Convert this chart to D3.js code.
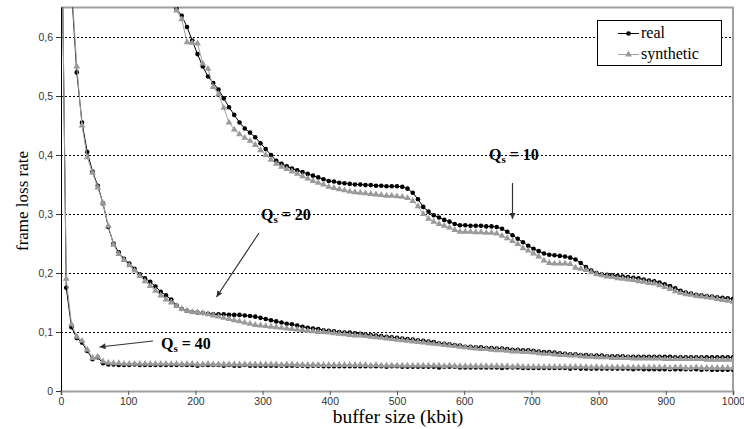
<!DOCTYPE html>
<html>
<head>
<meta charset="utf-8">
<script src="https://cdn.jsdelivr.net/npm/d3@7"></script>
<style>
  html, body { margin: 0; padding: 0; background: #fff; }
  svg { display: block; }
  .tick text { font-family: "Liberation Sans Narrow", "Arial Narrow", "Liberation Sans", Arial, sans-serif; font-size: 10.5px; fill: #333; }
  .serif { font-family: "Liberation Serif", "Times New Roman", "DejaVu Serif", serif; }
</style>
</head>
<body>
<svg id="chart" width="744" height="429"></svg>
<script>
// Buffer sizes (kbit) at which the frame loss rate was measured
const bufferSize = d3.range(129).map(i => i * 1000 / 128);

// Y tick values and X tick values
const yTicks = [0, 0.1, 0.2, 0.3, 0.4, 0.5, 0.6];
const xTicks = [0, 100, 200, 300, 400, 500, 600, 700, 800, 900, 1000];

// Qs = 40 (starting at buffer index 0)
const real40Start = 0;
const real40 = [
  0.9, 0.175, 0.108, 0.09, 0.082, 0.068, 0.054, 0.057, 0.047, 0.045,
  0.045, 0.044, 0.044, 0.044, 0.045, 0.044, 0.044, 0.044, 0.044, 0.044,
  0.044, 0.044, 0.044, 0.044, 0.044, 0.044, 0.043, 0.044, 0.044, 0.044,
  0.044, 0.043, 0.044, 0.043, 0.043, 0.044, 0.043, 0.043, 0.043, 0.043,
  0.043, 0.043, 0.043, 0.043, 0.043, 0.043, 0.043, 0.042, 0.043, 0.043,
  0.042, 0.042, 0.042, 0.042, 0.042, 0.042, 0.042, 0.042, 0.042, 0.042,
  0.042, 0.042, 0.041, 0.042, 0.042, 0.041, 0.041, 0.041, 0.041, 0.041,
  0.041, 0.041, 0.040, 0.041, 0.041, 0.041, 0.040, 0.040, 0.040, 0.040,
  0.040, 0.040, 0.040, 0.040, 0.039, 0.040, 0.040, 0.040, 0.039, 0.039,
  0.039, 0.039, 0.039, 0.039, 0.039, 0.039, 0.039, 0.038, 0.039, 0.038,
  0.038, 0.038, 0.038, 0.038, 0.038, 0.038, 0.038, 0.038, 0.038, 0.037,
  0.038, 0.037, 0.037, 0.037, 0.037, 0.037, 0.037, 0.037, 0.037, 0.037,
  0.037, 0.037, 0.036, 0.037, 0.036, 0.036, 0.036, 0.036, 0.036
];
const synth40Start = 0;
const synth40 = [
  0.9, 0.19, 0.113, 0.092, 0.085, 0.07, 0.056, 0.058, 0.05, 0.048,
  0.047, 0.047, 0.046, 0.046, 0.046, 0.046, 0.046, 0.046, 0.046, 0.046,
  0.046, 0.046, 0.046, 0.045, 0.046, 0.046, 0.045, 0.045, 0.046, 0.045,
  0.045, 0.045, 0.045, 0.045, 0.045, 0.045, 0.045, 0.045, 0.045, 0.045,
  0.045, 0.045, 0.044, 0.045, 0.045, 0.044, 0.044, 0.044, 0.044, 0.044,
  0.044, 0.044, 0.044, 0.044, 0.044, 0.044, 0.044, 0.044, 0.044, 0.043,
  0.044, 0.043, 0.043, 0.043, 0.043, 0.043, 0.043, 0.043, 0.043, 0.043,
  0.043, 0.043, 0.043, 0.042, 0.043, 0.042, 0.042, 0.042, 0.042, 0.042,
  0.042, 0.042, 0.042, 0.042, 0.042, 0.042, 0.041, 0.042, 0.041, 0.041,
  0.041, 0.041, 0.041, 0.041, 0.041, 0.041, 0.041, 0.041, 0.041, 0.041,
  0.041, 0.040, 0.041, 0.040, 0.040, 0.040, 0.040, 0.040, 0.040, 0.040,
  0.040, 0.040, 0.040, 0.040, 0.040, 0.040, 0.039, 0.040, 0.040, 0.039,
  0.039, 0.040, 0.039, 0.039, 0.039, 0.039, 0.039, 0.039, 0.039
];

// Qs = 20 (starting at buffer index 2)
const real20Start = 2;
const real20 = [
  0.68, 0.54, 0.455, 0.405, 0.372, 0.348, 0.318, 0.278,
  0.25, 0.235, 0.224, 0.216, 0.207, 0.198, 0.191, 0.185, 0.177, 0.168,
  0.162, 0.155, 0.145, 0.139, 0.136, 0.134, 0.133, 0.132, 0.131, 0.13,
  0.13, 0.13, 0.129, 0.129, 0.129, 0.128, 0.127, 0.126, 0.124, 0.122,
  0.12, 0.118, 0.116, 0.114, 0.113, 0.111, 0.109, 0.107, 0.106, 0.105,
  0.103, 0.102, 0.101, 0.1, 0.099, 0.099, 0.098, 0.097, 0.096, 0.095,
  0.094, 0.093, 0.092, 0.091, 0.09, 0.089, 0.088, 0.087, 0.086, 0.085,
  0.084, 0.083, 0.081, 0.08, 0.079, 0.078, 0.077, 0.075, 0.075, 0.074,
  0.074, 0.073, 0.073, 0.072, 0.072, 0.071, 0.07, 0.07, 0.069, 0.069,
  0.068, 0.067, 0.066, 0.066, 0.065, 0.064, 0.063, 0.062, 0.062, 0.061,
  0.061, 0.06, 0.06, 0.06, 0.059, 0.059, 0.059, 0.059, 0.058, 0.058,
  0.058, 0.058, 0.058, 0.058, 0.058, 0.058, 0.058, 0.057, 0.057, 0.057,
  0.057, 0.057, 0.057, 0.057, 0.057, 0.057, 0.057, 0.057, 0.057
];
const synth20Start = 2;
const synth20 = [
  0.69, 0.55, 0.45, 0.396, 0.37, 0.345, 0.318, 0.28,
  0.248, 0.232, 0.222, 0.213, 0.204, 0.195, 0.186, 0.178, 0.17, 0.162,
  0.155, 0.15, 0.144, 0.139, 0.136, 0.134, 0.133, 0.132, 0.13, 0.128,
  0.126, 0.124, 0.122, 0.12, 0.118, 0.116, 0.114, 0.112, 0.111, 0.11,
  0.109, 0.108, 0.107, 0.106, 0.105, 0.104, 0.103, 0.102, 0.101, 0.1,
  0.1, 0.099, 0.098, 0.097, 0.096, 0.095, 0.094, 0.094, 0.093, 0.092,
  0.091, 0.09, 0.089, 0.088, 0.087, 0.086, 0.085, 0.084, 0.083, 0.082,
  0.081, 0.08, 0.079, 0.078, 0.077, 0.076, 0.075, 0.074, 0.073, 0.072,
  0.071, 0.071, 0.07, 0.069, 0.069, 0.068, 0.067, 0.067, 0.066, 0.066,
  0.065, 0.064, 0.063, 0.063, 0.062, 0.061, 0.061, 0.06, 0.06, 0.059,
  0.058, 0.058, 0.057, 0.057, 0.057, 0.056, 0.056, 0.056, 0.056, 0.055,
  0.055, 0.055, 0.055, 0.055, 0.055, 0.054, 0.054, 0.054, 0.054, 0.054,
  0.054, 0.054, 0.054, 0.053, 0.053, 0.053, 0.053, 0.053, 0.053
];

// Qs = 10 (starting at buffer index 21)
const real10Start = 21;
const real10 = [
  0.69, 0.648, 0.636, 0.617, 0.594, 0.571, 0.55, 0.533, 0.522,
  0.511, 0.496, 0.481, 0.468, 0.455, 0.445, 0.438, 0.43, 0.42, 0.41,
  0.4, 0.39, 0.385, 0.381, 0.377, 0.374, 0.371, 0.368, 0.365, 0.362,
  0.359, 0.356, 0.355, 0.353, 0.352, 0.351, 0.35, 0.35, 0.349, 0.349,
  0.348, 0.348, 0.347, 0.347, 0.347, 0.346, 0.343, 0.336, 0.325, 0.312,
  0.304, 0.298, 0.294, 0.29, 0.287, 0.283, 0.281, 0.281, 0.28, 0.28,
  0.28, 0.279, 0.279, 0.278, 0.275, 0.27, 0.264, 0.258, 0.252, 0.246,
  0.241, 0.237, 0.233, 0.231, 0.23, 0.229, 0.228, 0.226, 0.223, 0.217,
  0.21, 0.204, 0.2, 0.198, 0.197, 0.196, 0.195, 0.194, 0.193, 0.192,
  0.191, 0.189, 0.187, 0.186, 0.184, 0.181, 0.178, 0.174, 0.17, 0.167,
  0.165, 0.163, 0.162, 0.161, 0.16, 0.159, 0.158, 0.157, 0.156
];
const synth10Start = 21;
const synth10 = [
  0.68, 0.645, 0.63, 0.591, 0.59, 0.589, 0.555, 0.546, 0.515,
  0.503, 0.48, 0.455, 0.443, 0.435, 0.429, 0.424, 0.417, 0.408, 0.4,
  0.392, 0.385, 0.38, 0.376, 0.372, 0.368, 0.364, 0.36, 0.356, 0.353,
  0.35, 0.346, 0.344, 0.342, 0.34, 0.338, 0.337, 0.336, 0.335, 0.334,
  0.333, 0.332, 0.331, 0.331, 0.33, 0.329, 0.327, 0.322, 0.313, 0.3,
  0.292, 0.287, 0.283, 0.28, 0.277, 0.273, 0.27, 0.27, 0.27, 0.269,
  0.269, 0.268, 0.268, 0.267, 0.263, 0.259, 0.254, 0.249, 0.242, 0.238,
  0.233, 0.228, 0.221, 0.217, 0.216, 0.216, 0.216, 0.215, 0.209, 0.207,
  0.205, 0.201, 0.198, 0.196, 0.194, 0.193, 0.191, 0.19, 0.189, 0.188,
  0.186, 0.185, 0.183, 0.182, 0.179, 0.176, 0.173, 0.169, 0.166, 0.164,
  0.163, 0.161, 0.16, 0.159, 0.158, 0.156, 0.154, 0.153, 0.151
];

// Curve annotations
const annotations = [
  { qs: "10", at: [489, 160], from: [512.5, 183], to: [512.5, 219] },
  { qs: "20", at: [261, 220], from: [259, 233], to: [216.5, 297] },
  { qs: "40", at: [161, 349], from: [153, 341], to: [99.5, 347] }
];

const svg = d3.select("#chart");
const plotLeft = 61, plotRight = 733, plotTop = 7.5, plotBottom = 391;

const x = d3.scaleLinear().domain([0, 1000]).range([plotLeft, plotRight]);
const y = d3.scaleLinear().domain([0, 0.65]).range([plotBottom, plotTop]);

const defs = svg.append("defs");
defs.append("clipPath").attr("id", "plotClip")
  .append("rect").attr("x", plotLeft).attr("y", plotTop - 0.5)
  .attr("width", plotRight - plotLeft).attr("height", plotBottom - plotTop + 0.5);

defs.append("marker").attr("id", "arrowHead")
  .attr("viewBox", "0 0 10 10").attr("refX", 10).attr("refY", 5)
  .attr("markerWidth", 7).attr("markerHeight", 6).attr("markerUnits", "userSpaceOnUse")
  .attr("orient", "auto")
  .append("path").attr("d", "M0,0 L10,5 L0,10 Z").attr("fill", "#333");

// Horizontal dashed gridlines
svg.append("g").selectAll("line").data(yTicks.filter(d => d > 0)).join("line")
  .attr("x1", plotLeft).attr("x2", plotRight)
  .attr("y1", d => Math.round(y(d)) + 0.5).attr("y2", d => Math.round(y(d)) + 0.5)
  .attr("stroke", "#000").attr("stroke-width", 1).attr("stroke-dasharray", "2,2");

// Gray frame on the top and right sides
svg.append("path")
  .attr("d", `M${plotLeft},${plotTop} H${plotRight} V${plotBottom}`)
  .attr("fill", "none").attr("stroke", "#a0a0a0").attr("stroke-width", 2);

// X axis
const fmtY = d => d === 0 ? "0" : d3.format(".1f")(d).replace(".", ",");
const xAxis = svg.append("g").attr("transform", `translate(0,${plotBottom})`)
  .call(d3.axisBottom(x).tickValues(xTicks).tickSize(4).tickPadding(3).tickFormat(d3.format("d")));
xAxis.select(".domain").attr("stroke", "#a0a0a0").attr("stroke-width", 2);
xAxis.selectAll(".tick line").attr("stroke", "#555");

// Y axis
const yAxis = svg.append("g").attr("transform", `translate(${plotLeft},0)`)
  .call(d3.axisLeft(y).tickValues(yTicks).tickSize(5).tickPadding(3).tickFormat(fmtY));
yAxis.select(".domain").attr("stroke", "#000").attr("stroke-width", 1)
  .attr("d", `M0.5,${plotTop}V${plotBottom}`);
yAxis.selectAll(".tick line").attr("stroke", "#333");

// Axis titles
svg.append("text").attr("class", "serif").attr("x", 398).attr("y", 423).attr("text-anchor", "middle")
  .attr("font-size", 19.5).attr("fill", "#000").text("buffer size (kbit)");
svg.append("text").attr("class", "serif").attr("transform", "translate(28,201) rotate(-90)")
  .attr("text-anchor", "middle").attr("font-size", 17).attr("fill", "#000").text("frame loss rate");

// Series
const build = (vals, start) => vals.map((v, i) => ({ k: bufferSize[start + i], v }));
const series = [
  { pts: build(real40, real40Start), kind: "real" },
  { pts: build(real20, real20Start), kind: "real" },
  { pts: build(real10, real10Start), kind: "real" },
  { pts: build(synth40, synth40Start), kind: "synth" },
  { pts: build(synth20, synth20Start), kind: "synth" },
  { pts: build(synth10, synth10Start), kind: "synth" }
];
const line = d3.line().x(d => x(d.k)).y(d => y(d.v));
const plot = svg.append("g").attr("clip-path", "url(#plotClip)");
const triangle = d3.symbol().type(d3.symbolTriangle).size(20);

series.forEach(s => {
  const isReal = s.kind === "real";
  plot.append("path").datum(s.pts).attr("d", line).attr("fill", "none")
    .attr("stroke", isReal ? "#000" : "#a0a0a0").attr("stroke-width", 1);
  if (isReal) {
    plot.append("g").selectAll("circle").data(s.pts).join("circle")
      .attr("cx", d => x(d.k)).attr("cy", d => y(d.v)).attr("r", 2.3).attr("fill", "#000");
  } else {
    plot.append("g").selectAll("path").data(s.pts).join("path")
      .attr("d", triangle).attr("transform", d => `translate(${x(d.k)},${y(d.v)})`)
      .attr("fill", "#9a9a9a");
  }
});

// Legend
const lg = svg.append("g");
lg.append("rect").attr("x", 597.5).attr("y", 20.5).attr("width", 124).attr("height", 45)
  .attr("fill", "#fff").attr("stroke", "#000").attr("stroke-width", 1);
const legendItems = [
  { label: "real", cy: 33.5, kind: "real" },
  { label: "synthetic", cy: 54.5, kind: "synth" }
];
legendItems.forEach(it => {
  const isReal = it.kind === "real";
  lg.append("line").attr("x1", 618).attr("x2", 639).attr("y1", it.cy).attr("y2", it.cy)
    .attr("stroke", isReal ? "#000" : "#a0a0a0").attr("stroke-width", 1);
  if (isReal) {
    lg.append("circle").attr("cx", 628.5).attr("cy", it.cy).attr("r", 2.3).attr("fill", "#000");
  } else {
    lg.append("path").attr("d", triangle).attr("transform", `translate(628.5,${it.cy})`).attr("fill", "#9a9a9a");
  }
  lg.append("text").attr("class", "serif").attr("x", 641).attr("y", it.cy + 4).attr("font-size", 16)
    .attr("fill", "#000").text(it.label);
});

// Annotations with arrows
annotations.forEach(a => {
  const t = svg.append("text").attr("class", "serif").attr("x", a.at[0]).attr("y", a.at[1])
    .attr("font-weight", "bold").attr("font-size", 16).attr("fill", "#000");
  t.append("tspan").text("Q");
  t.append("tspan").attr("dy", 3).attr("font-size", 11).text("s");
  t.append("tspan").attr("dy", -3).text(" = " + a.qs);
  svg.append("line").attr("x1", a.from[0]).attr("y1", a.from[1]).attr("x2", a.to[0]).attr("y2", a.to[1])
    .attr("stroke", "#333").attr("stroke-width", 1.2).attr("marker-end", "url(#arrowHead)");
});
</script>
</body>
</html>
